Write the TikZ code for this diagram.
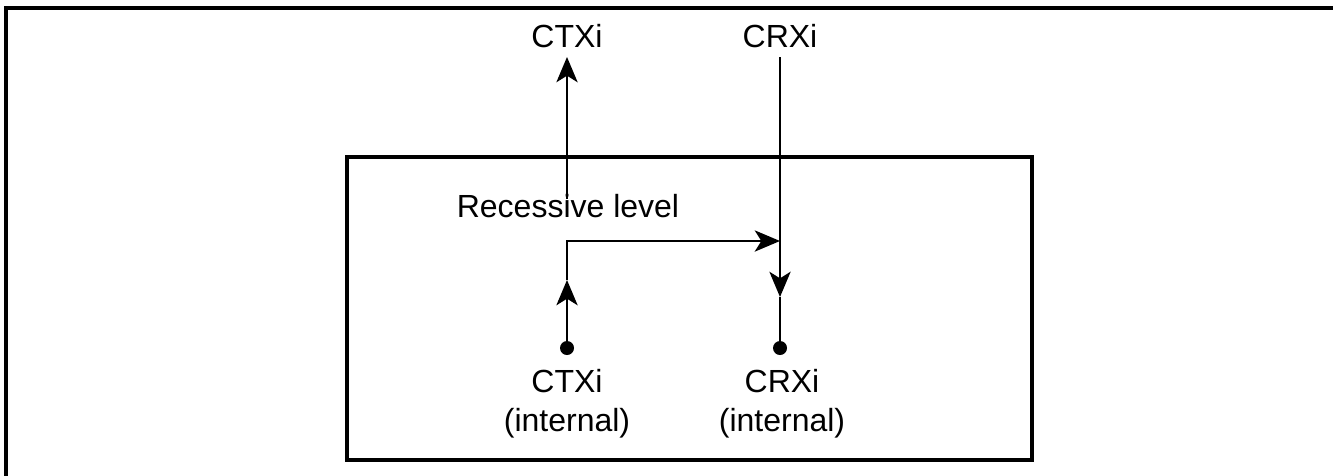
\documentclass[tikz,border=0pt]{standalone}
\usepackage{fontspec}
\setmainfont{Liberation Sans}
\usetikzlibrary{arrows.meta}
\tikzset{
  frame/.style={line width=2.3pt},
  conn/.style={line width=1.1pt},
  tip/.style={-{Stealth[length=19pt,width=16pt,inset=5pt]}},
  lbl/.style={font=\fontsize{24pt}{29pt}\selectfont, inner sep=0pt, align=center},
  dot/.style={circle, fill=black, inner sep=0pt, minimum size=10.5pt}
}
\begin{document}
\begin{tikzpicture}[x=0.75pt,y=-0.75pt]
\useasboundingbox (0,0) rectangle (1333,475);
% outer frame (top and left edges)
\draw[frame] (1334,8) -- (6,8) -- (6,476);
% inner box
\draw[frame] (347,157) rectangle (1032,460);
% labels
\node[lbl] (ctxtop) at (567,36) {CTXi};
\node[lbl] (crxtop) at (780,36) {CRXi};
\node[lbl] (rec) at (568,206) {Recessive level};
\node[lbl] (ctxin) at (567,404) {CTXi\\(internal)};
\node[lbl] (crxin) at (782,404) {CRXi\\(internal)};
% dots
\node[dot] (ctxdot) at (567,348) {};
\node[dot] (crxdot) at (780,348) {};
% coordinates
\coordinate (ctxup) at (567,57);
\coordinate (recup) at (567,199);
\coordinate (crxdn) at (780,57);
\coordinate (uptip) at (567,280);
\coordinate (corner) at (567,241);
\coordinate (junc) at (780,241);
\coordinate (dntip) at (780,297);
% connectors
\draw[conn,tip] (recup) -- (ctxup);
\draw[conn,tip] (crxdn) -- (dntip);
\draw[conn] (dntip) -- (crxdot.center);
\draw[conn,tip] (ctxdot.center) -- (uptip);
\draw[conn,tip] (uptip) -- (corner) -- (junc);
\end{tikzpicture}
\end{document}
